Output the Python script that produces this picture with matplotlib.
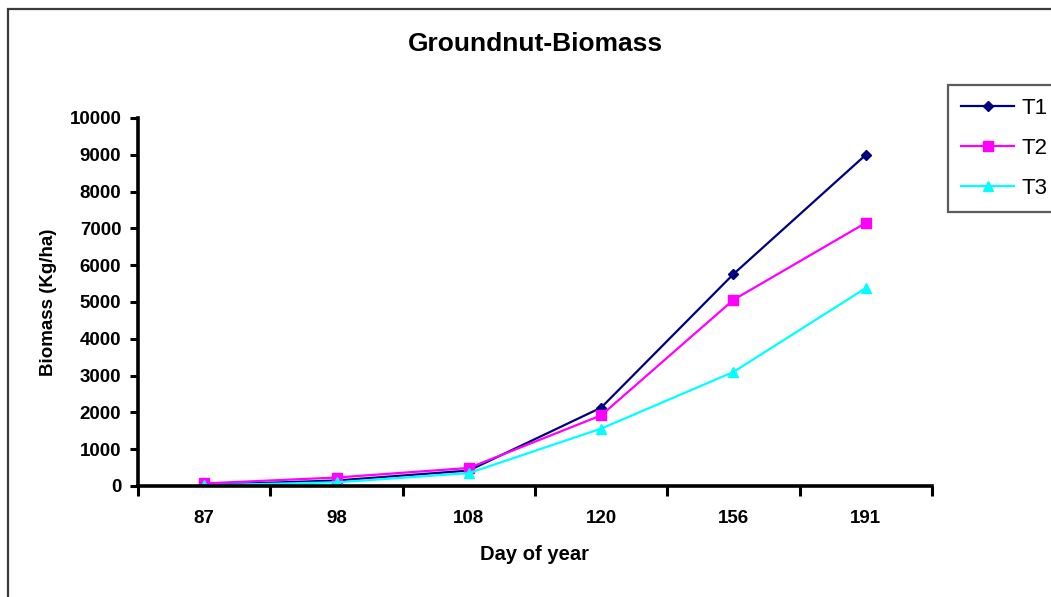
import matplotlib.pyplot as plt
from matplotlib.patches import Rectangle
from matplotlib.ticker import FixedLocator

days = ['87', '98', '108', '120', '156', '191']
t1 = [30, 150, 420, 2130, 5760, 9000]
t2 = [70, 230, 490, 1920, 5060, 7150]
t3 = [20, 100, 350, 1560, 3100, 5380]
y_ticks = [0, 1000, 2000, 3000, 4000, 5000, 6000, 7000, 8000, 9000, 10000]

plt.rcParams['font.family'] = ['Liberation Sans', 'DejaVu Sans']

fig = plt.figure(figsize=(10.51, 5.97), dpi=100)
ax = fig.add_axes([138 / 1051, 1 - 486 / 597, 794 / 1051, 368 / 597])

# outer chart frame (cut off at right and bottom)
fig.patches.append(Rectangle((8 / 1051, -0.1), 1.2, 1.1 - 9 / 597,
                             transform=fig.transFigure, fill=False,
                             edgecolor='#3a3a3a', linewidth=1.6))

x = list(range(len(days)))
ax.plot(x, t1, color='#000080', marker='D', markersize=5.5, linewidth=1.6, label='T1')
ax.plot(x, t2, color='#ff00ff', marker='s', markersize=7, linewidth=1.6, label='T2')
ax.plot(x, t3, color='#00ffff', marker='^', markersize=7.5, linewidth=1.6, label='T3')

ax.set_xlim(-0.5, len(days) - 0.5)
ax.set_ylim(0, 10000)
ax.set_yticks(y_ticks)
ax.set_yticklabels([str(v) for v in y_ticks], fontsize=13.5, fontweight='bold')
ax.set_xticks(x)
ax.set_xticklabels(days, fontsize=13.5, fontweight='bold')
ax.xaxis.set_minor_locator(FixedLocator([i - 0.5 for i in range(len(days) + 1)]))
ax.tick_params(axis='x', which='major', length=0, pad=17)
ax.tick_params(axis='x', which='minor', length=7, width=2.2, direction='out')
ax.tick_params(axis='y', length=6, width=2.2, direction='out', pad=6)

for side in ['top', 'right']:
    ax.spines[side].set_visible(False)
for side in ['left', 'bottom']:
    ax.spines[side].set_linewidth(2.6)

ax.set_title('Groundnut-Biomass', fontsize=19, fontweight='bold', pad=48)
ax.set_xlabel('Day of year', fontsize=14.5, fontweight='bold', labelpad=13)
ax.set_ylabel('Biomass (Kg/ha)', fontsize=13.5, fontweight='bold', labelpad=9)

leg = fig.legend(loc='upper left', bbox_to_anchor=(948 / 1051, 1 - 85 / 597),
                 fontsize=16, frameon=True, fancybox=False, edgecolor='#333333',
                 borderpad=0.58, labelspacing=0.85, handlelength=2.4,
                 handletextpad=0.35, numpoints=1, borderaxespad=0)
leg.get_frame().set_linewidth(1.6)

fig.savefig('out.png', dpi=100)
